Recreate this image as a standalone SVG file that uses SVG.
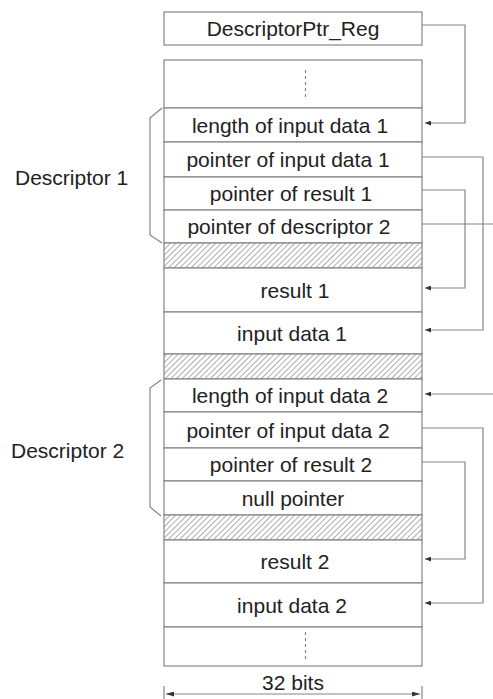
<svg xmlns="http://www.w3.org/2000/svg" width="493" height="699" viewBox="0 0 493 699">
<style>
.box{fill:#fff;stroke:#858585;stroke-width:1.2}
.hatch{fill:url(#hatch);stroke:#858585;stroke-width:1.2}
.t{font-family:"Liberation Sans",Arial,sans-serif;font-size:21px;fill:#222;text-anchor:middle}
.lbl{font-family:"Liberation Sans",Arial,sans-serif;font-size:21px;fill:#222}
.c{fill:none;stroke:#858585;stroke-width:1.2}
.ca{fill:none;stroke:#858585;stroke-width:1.2;marker-end:url(#arr)}
.dots{stroke:#858585;stroke-width:1.2;stroke-dasharray:3 3}
.brace{fill:none;stroke:#858585;stroke-width:1.2}
</style>
<defs>
<pattern id="hatch" patternUnits="userSpaceOnUse" width="4" height="4" patternTransform="rotate(45)">
<rect width="4" height="4" fill="#fff"/>
<line x1="0" y1="0" x2="0" y2="4" stroke="#8a8a8a" stroke-width="1.4"/>
</pattern>
<marker id="arr" markerUnits="userSpaceOnUse" markerWidth="6" markerHeight="5" refX="6" refY="2.5" orient="auto">
<path d="M0,0 L6,2.5 L0,5 z" fill="#333"/>
</marker>
<marker id="darr" markerUnits="userSpaceOnUse" markerWidth="8" markerHeight="5" refX="8" refY="2.5" orient="auto-start-reverse">
<path d="M0,0 L8,2.5 L0,5 z" fill="#333"/>
</marker>
</defs>

<g id="reg"><rect class="box" x="164" y="12" width="258" height="33"/><text class="t" x="293" y="36">DescriptorPtr_Reg</text></g>
<g id="top-dots"><rect class="box" x="164" y="60" width="258" height="48"/><line class="dots" x1="305.5" y1="70" x2="305.5" y2="98"/></g>
<g id="len1"><rect class="box" x="164" y="108" width="258" height="34"/><text class="t" x="290" y="132.5">length of input data 1</text></g>
<g id="pin1"><rect class="box" x="164" y="142" width="258" height="35"/><text class="t" x="288" y="167">pointer of input data 1</text></g>
<g id="pres1"><rect class="box" x="164" y="177" width="258" height="33"/><text class="t" x="291" y="201">pointer of result 1</text></g>
<g id="pdesc2"><rect class="box" x="164" y="210" width="258" height="33"/><text class="t" x="289" y="234">pointer of descriptor 2</text></g>
<g id="hatch1"><rect class="hatch" x="164" y="243" width="258" height="25"/></g>
<g id="res1"><rect class="box" x="164" y="268" width="258" height="44"/><text class="t" x="295" y="297.5">result 1</text></g>
<g id="in1"><rect class="box" x="164" y="312" width="258" height="42"/><text class="t" x="292" y="340.5">input data 1</text></g>
<g id="hatch2"><rect class="hatch" x="164" y="354" width="258" height="25"/></g>
<g id="len2"><rect class="box" x="164" y="379" width="258" height="33"/><text class="t" x="290" y="403">length of input data 2</text></g>
<g id="pin2"><rect class="box" x="164" y="412" width="258" height="36"/><text class="t" x="288" y="437.5">pointer of input data 2</text></g>
<g id="pres2"><rect class="box" x="164" y="448" width="258" height="33"/><text class="t" x="291" y="472">pointer of result 2</text></g>
<g id="null"><rect class="box" x="164" y="481" width="258" height="34"/><text class="t" x="293" y="505.5">null pointer</text></g>
<g id="hatch3"><rect class="hatch" x="164" y="515" width="258" height="25"/></g>
<g id="res2"><rect class="box" x="164" y="540" width="258" height="43"/><text class="t" x="295" y="569">result 2</text></g>
<g id="in2"><rect class="box" x="164" y="583" width="258" height="44"/><text class="t" x="292" y="612.5">input data 2</text></g>
<g id="bottom-dots"><rect class="box" x="164" y="627" width="258" height="39"/><line class="dots" x1="305.5" y1="632" x2="305.5" y2="659"/></g>

<g id="desc1"><path class="brace" d="M162,108 L150,118 L150,235 L162,243"/><text class="lbl" x="15" y="185">Descriptor 1</text></g>
<g id="desc2"><path class="brace" d="M161,380 L150,388 L150,507 L161,516"/><text class="lbl" x="11" y="458">Descriptor 2</text></g>

<g id="connectors">
<path class="ca" d="M422,25 H465 V123 H425"/>
<path class="ca" d="M422,157 H483 V330 H425"/>
<path class="ca" d="M422,190 H465 V288 H425"/>
<path class="c" d="M422,224 H493"/>
<path class="ca" d="M493,394 H425"/>
<path class="ca" d="M422,428 H483 V603 H425"/>
<path class="ca" d="M422,462 H465 V559 H425"/>
</g>

<g id="width">
<line class="c" x1="164" y1="686" x2="164" y2="699"/>
<line class="c" x1="422" y1="686" x2="422" y2="699"/>
<line x1="166" y1="694" x2="420" y2="694" stroke="#858585" stroke-width="1.2" marker-start="url(#darr)" marker-end="url(#darr)"/>
<text class="t" x="293" y="690">32 bits</text>
</g>
</svg>
